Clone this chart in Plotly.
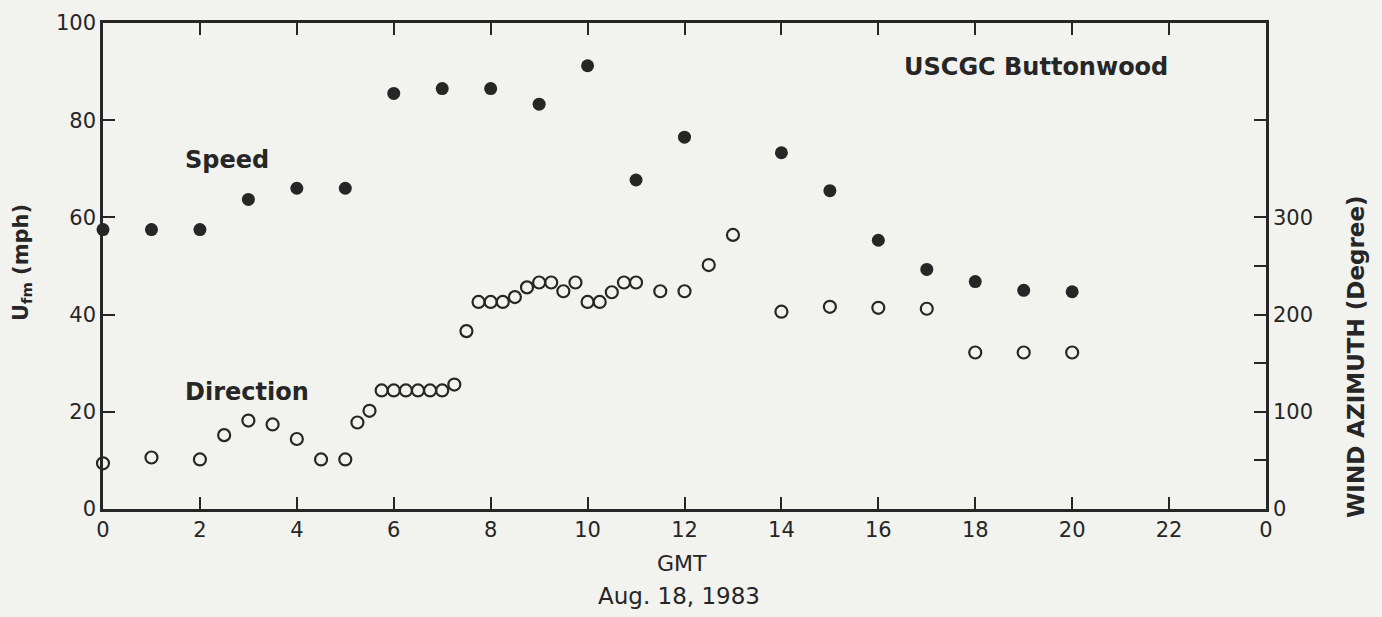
import plotly.graph_objects as go

# Hourly wind speed (mph) at the cutter
speed_hours = [0, 1, 2, 3, 4, 5, 6, 7, 8, 9, 10, 11, 12, 14, 15, 16, 17, 18, 19, 20]
speed_mph = [57.5, 57.5, 57.5, 63.7, 66.0, 66.0, 85.5, 86.5, 86.5, 83.3, 91.2, 67.7,
             76.5, 73.3, 65.5, 55.3, 49.3, 46.8, 45.0, 44.7]

# Wind azimuth (degrees)
dir_hours = [0, 1, 2, 2.5, 3, 3.5, 4, 4.5, 5, 5.25, 5.5, 5.75, 6, 6.25, 6.5, 6.75, 7, 7.25,
             7.5, 7.75, 8, 8.25, 8.5, 8.75, 9, 9.25, 9.5, 9.75, 10, 10.25, 10.5, 10.75, 11,
             11.5, 12, 12.5, 13, 14, 15, 16, 17, 18, 19, 20]
dir_deg = [47, 53, 51, 76, 91, 87, 72, 51, 51, 89, 101, 122, 122, 122, 122, 122, 122, 128,
           183, 213, 213, 213, 218, 228, 233, 233, 224, 233, 213, 213, 223, 233, 233,
           224, 224, 251, 282, 203, 208, 207, 206, 161, 161, 161]

x_ticks = list(range(0, 25, 2))
x_tick_text = [str(v % 24) for v in x_ticks]
left_ticks = [0, 20, 40, 60, 80, 100]
right_ticks = [0, 100, 200, 300]
right_minor_ticks = [50, 150, 250, 400]

INK = "#262626"
BG = "#f2f2ee"
TICK_FONT = dict(family="DejaVu Sans", size=21, color=INK)
BOLD = "DejaVu Sans"

fig = go.Figure()

fig.add_trace(go.Scatter(
    x=speed_hours, y=speed_mph, mode="markers", yaxis="y",
    marker=dict(symbol="circle", size=13, color=INK, line=dict(width=0)),
    cliponaxis=False, showlegend=False))

fig.add_trace(go.Scatter(
    x=dir_hours, y=dir_deg, mode="markers", yaxis="y2",
    marker=dict(symbol="circle-open", size=12, color=INK, line=dict(width=2.2, color=INK)),
    cliponaxis=False, showlegend=False))

fig.update_layout(
    width=1382, height=617,
    margin=dict(l=103, r=116, t=23, b=108),
    paper_bgcolor=BG, plot_bgcolor=BG,
    xaxis=dict(range=[0, 24], tickvals=x_ticks, ticktext=x_tick_text,
               ticks="inside", ticklen=12, tickwidth=2, tickcolor=INK,
               showline=True, linewidth=2.5, linecolor=INK, mirror="ticks",
               showgrid=False, zeroline=False, tickfont=TICK_FONT),
    yaxis=dict(range=[0, 100], tickvals=left_ticks,
               ticks="inside", ticklen=12, tickwidth=2, tickcolor=INK,
               showline=True, linewidth=2.5, linecolor=INK,
               showgrid=False, zeroline=False, tickfont=TICK_FONT),
    yaxis2=dict(range=[0, 500], overlaying="y", side="right",
                tickvals=right_ticks,
                ticks="inside", ticklen=12, tickwidth=2, tickcolor=INK,
                minor=dict(tickmode="array", tickvals=right_minor_ticks, ticks="inside",
                           ticklen=12, tickwidth=2, tickcolor=INK, showgrid=False),
                showline=True, linewidth=2.5, linecolor=INK,
                showgrid=False, zeroline=False, tickfont=TICK_FONT),
)

annotations = [
    dict(text="<b>Speed</b>", x=1.65, y=71.8, xref="x", yref="y",
         xanchor="left", yanchor="middle", font=dict(family=BOLD, size=24, color=INK)),
    dict(text="<b>Direction</b>", x=1.65, y=24.1, xref="x", yref="y",
         xanchor="left", yanchor="middle", font=dict(family=BOLD, size=24, color=INK)),
    dict(text="<b>USCGC Buttonwood</b>", x=16.49, y=90.9, xref="x", yref="y",
         xanchor="left", yanchor="middle", font=dict(family=BOLD, size=24, color=INK)),
    dict(text="<b>U<sub>fm</sub> (mph)</b>", x=22, y=263, xref="paper", yref="paper",
         textangle=-90, xanchor="center", yanchor="middle",
         font=dict(family=BOLD, size=21, color=INK)),
    dict(text="<b>WIND AZIMUTH (Degree)</b>", x=1356, y=357, xref="paper", yref="paper",
         textangle=-90, xanchor="center", yanchor="middle",
         font=dict(family=BOLD, size=23, color=INK)),
    dict(text="GMT", x=682, y=563, xref="paper", yref="paper",
         xanchor="center", yanchor="middle", font=dict(family="DejaVu Sans", size=22, color=INK)),
    dict(text="Aug. 18, 1983", x=679, y=596, xref="paper", yref="paper",
         xanchor="center", yanchor="middle", font=dict(family="DejaVu Sans", size=23, color=INK)),
]

# Convert pixel-placed labels outside the plot area into paper fractions
plot_l, plot_r, plot_t, plot_b = 103, 1266, 23, 509
for a in annotations:
    if a["xref"] == "paper":
        a["x"] = (a["x"] - plot_l) / (plot_r - plot_l)
        a["y"] = (plot_b - a["y"]) / (plot_b - plot_t)
    a["showarrow"] = False
fig.update_layout(annotations=annotations)

fig.write_html("out.html")
